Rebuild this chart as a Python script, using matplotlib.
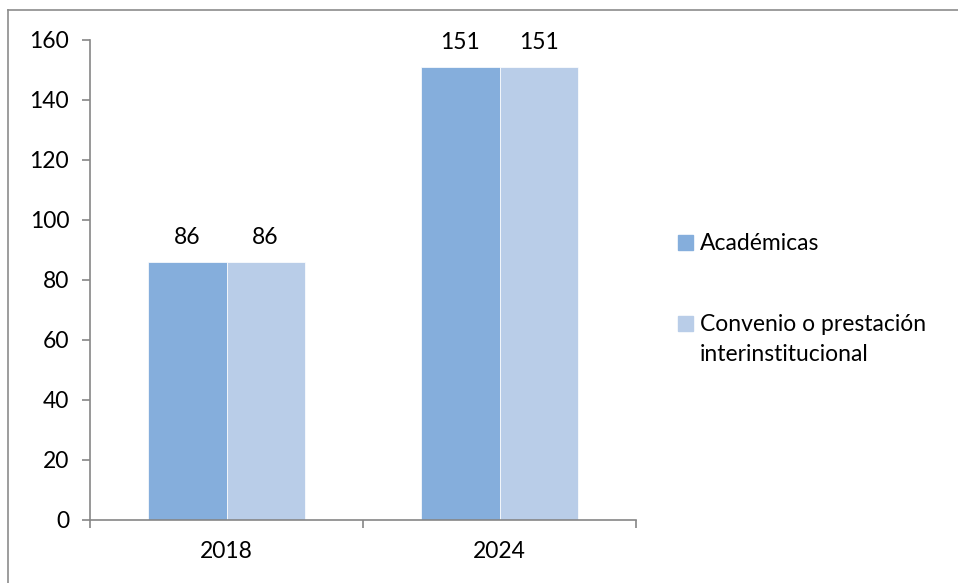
import numpy as np
import matplotlib.pyplot as plt
from matplotlib.lines import Line2D
from matplotlib.patches import Rectangle

years = ['2018', '2024']
academicas = [86, 151]
convenio = [86, 151]
series_names = ['Académicas', 'Convenio o prestación\ninterinstitucional']
colors = ['#85AEDC', '#B9CDE8']

plt.rcParams['font.family'] = ['Lato', 'DejaVu Sans']
W, H = 958, 583
fs = 16.5

fig = plt.figure(figsize=(W/100, H/100), dpi=100)
ax = fig.add_axes([90/W, 1-520/H, (636-90)/W, (520-40)/H])

x = np.arange(len(years))
w = 0.286
b1 = ax.bar(x - w/2, academicas, w, color=colors[0], edgecolor='white', linewidth=0.5)
b2 = ax.bar(x + w/2, convenio, w, color=colors[1], edgecolor='white', linewidth=0.5)
for bars in (b1, b2):
    ax.bar_label(bars, padding=10, fontsize=fs)

ax.set_xlim(-0.5, 1.5)
ax.set_ylim(0, 160)
ax.set_yticks(range(0, 161, 20))
ax.set_xticks(x)
ax.set_xticklabels(years)
ax.set_xticks([-0.5, 0.5, 1.5], minor=True)
ax.tick_params(axis='x', which='major', length=0, pad=15, labelsize=fs)
ax.tick_params(axis='x', which='minor', length=6, color='#868686', width=1.2)
ax.tick_params(axis='y', length=6, color='#868686', width=1.2, labelsize=fs, pad=9)
for s in ['top', 'right']:
    ax.spines[s].set_visible(False)
for s in ['left', 'bottom']:
    ax.spines[s].set_color('#868686')
    ax.spines[s].set_linewidth(1.2)

# legend drawn by hand so the marker sits on the first line
legend_y = [242, 323]
for name, c, yy in zip(series_names, colors, legend_y):
    fig.add_artist(Rectangle((678/W, 1-(yy+7.5)/H), 15/W, 15/H, color=c,
                             transform=fig.transFigure))
    fig.text(700/W, 1-(yy-9)/H, name, fontsize=fs, va='top', ha='left',
             linespacing=1.55)

# figure border (top and left visible)
fig.add_artist(Line2D([8/W, 1], [1-10/H, 1-10/H], color='#8c8c8c', lw=1.2))
fig.add_artist(Line2D([8/W, 8/W], [0, 1-10/H], color='#8c8c8c', lw=1.2))

fig.savefig('out.png', dpi=100)
